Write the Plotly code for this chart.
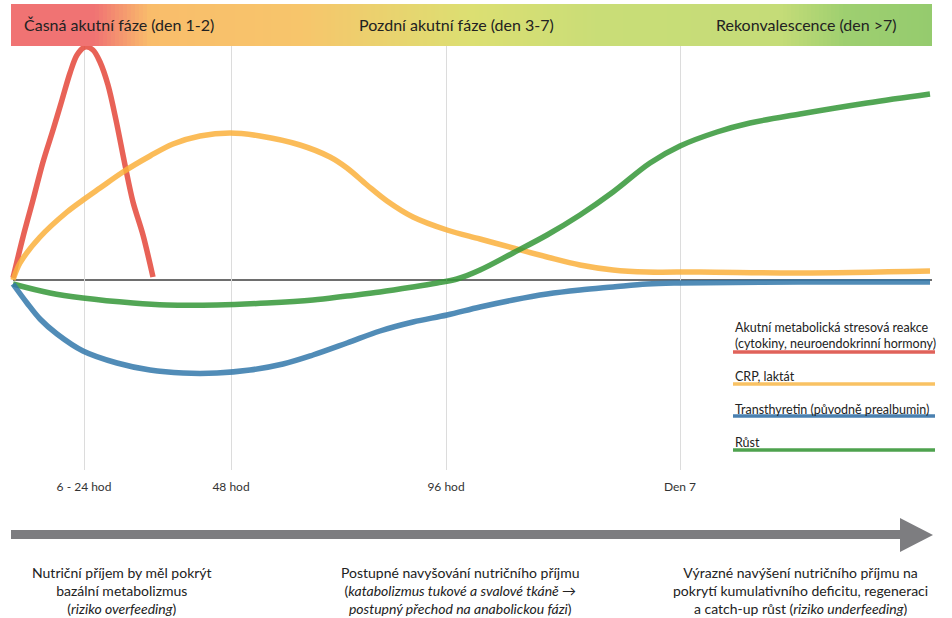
import plotly.graph_objects as go

# ---- data (x: time position, y: relative level vs. baseline) ----
red_x = [13, 23, 33, 43, 53, 62, 70, 77, 85, 93, 100, 108, 116, 125, 133, 143, 153]
red_y = [2, 43, 80, 118, 150, 180, 207, 225, 233, 230, 218, 195, 160, 115, 78, 45, 3]

orange_x = [13, 20, 40, 67, 83, 100, 123, 150, 173, 200, 230, 260, 300, 330, 347, 367, 387, 413, 447, 480, 513, 547, 580, 613, 647, 700, 800, 930]
orange_y = [0, 17, 43, 68, 80, 92, 108, 124, 136, 144, 147, 144, 135, 123, 112, 95, 79, 63, 50, 41, 32, 23, 15, 10, 8, 8, 7, 9]

green_x = [13, 50, 83, 133, 167, 217, 267, 313, 347, 380, 413, 437, 457, 480, 513, 547, 580, 613, 650, 680, 717, 750, 800, 867, 930]
green_y = [-4, -13, -18, -23, -25, -25, -23, -20, -16, -12, -7, -3, 1, 10, 27, 45, 65, 88, 117, 134, 148, 157, 166, 177, 186]

blue_x = [13, 27, 40, 57, 83, 117, 150, 183, 217, 250, 283, 313, 347, 380, 413, 447, 480, 513, 547, 580, 613, 647, 680, 800, 930]
blue_y = [-4, -23, -39, -54, -71, -83, -90, -93, -93, -90, -84, -75, -63, -51, -42, -35, -27, -20, -14, -10, -7, -4, -3, -2, -2]

tick_vals = [84, 231, 446, 680]
tick_text = ["6 - 24 hod", "48 hod", "96 hod", "Den 7"]

phase_labels = ["Časná akutní fáze (den 1-2)", "Pozdní akutní fáze (den 3-7)", "Rekonvalescence (den >7)"]
legend_labels = ["Akutní metabolická stresová reakce<br>(cytokiny, neuroendokrinní hormony)",
                 "CRP, laktát", "Transthyretin (původně prealbumin)", "Růst"]
bottom_texts = [
    "Nutriční příjem by měl pokrýt<br>bazální metabolizmus<br>(<i>riziko overfeeding</i>)",
    "Postupné navyšování nutričního příjmu<br>(<i>katabolizmus tukové a svalové tkáně →<br>postupný přechod na anabolickou fázi</i>)",
    "Výrazné navýšení nutričního příjmu na<br>pokrytí kumulativního deficitu, regeneraci<br>a catch-up růst (<i>riziko underfeeding</i>)",
]

# ---- layout geometry ----
W, H = 952, 618
TOP, BOT = 45, 470   # plot area pixel rows
FONT = "Lato"

def py(p):  # pixel row -> paper y
    return (BOT - p) / (BOT - TOP)

def px(p):  # pixel col -> paper x
    return p / W

fig = go.Figure()

series = [
    (red_x, red_y, "rgba(228,70,58,0.85)", 0.9),
    (orange_x, orange_y, "rgba(250,176,60,0.85)", 1.0),
    (green_x, green_y, "rgba(52,150,55,0.85)", 1.0),
    (blue_x, blue_y, "rgba(50,120,170,0.85)", 1.0),
]
for xs, ys, c, sm in series:
    fig.add_trace(go.Scatter(x=xs, y=ys, mode="lines",
                             line=dict(color=c, width=5.5, shape="spline", smoothing=sm),
                             cliponaxis=False, showlegend=False, hoverinfo="skip"))

shapes = []
# baseline
shapes.append(dict(type="line", xref="x", yref="y", x0=13, x1=932, y0=0, y1=0,
                   line=dict(color="#6e6e6e", width=2), layer="below"))

# header gradient
stops = [(11, (240, 115, 115)), (95, (240, 115, 115)), (150, (249, 189, 107)),
         (300, (247, 197, 107)), (470, (220, 223, 114)), (600, (201, 221, 119)),
         (780, (197, 220, 120)), (845, (158, 207, 112)), (932, (149, 203, 110))]

def col_at(xp):
    for (x0, c0), (x1, c1) in zip(stops[:-1], stops[1:]):
        if x0 <= xp <= x1:
            t = (xp - x0) / (x1 - x0) if x1 > x0 else 0
            return "rgb(%d,%d,%d)" % tuple(round(a + (b - a) * t) for a, b in zip(c0, c1))
    return "rgb(%d,%d,%d)" % stops[-1][1]

step = 4
xp = 11
while xp < 932:
    x1 = min(xp + step, 932)
    shapes.append(dict(type="rect", xref="paper", yref="paper",
                       x0=px(xp), x1=px(min(x1 + 0.6, 932)), y0=py(46), y1=py(4),
                       fillcolor=col_at(xp + step / 2), line=dict(width=0), layer="above"))
    xp = x1

# legend lines
leg_cols = ["#e0625a", "#f9c263", "#4a80b0", "#4ea24e"]
leg_line_y = [352, 384, 416, 450]
for c, ly in zip(leg_cols, leg_line_y):
    shapes.append(dict(type="line", xref="paper", yref="paper", x0=px(733), x1=px(935),
                       y0=py(ly), y1=py(ly), line=dict(color=c, width=3.5)))

# big arrow
shapes.append(dict(type="rect", xref="paper", yref="paper", x0=px(11), x1=px(902),
                   y0=py(539), y1=py(530), fillcolor="#7d7d80", line=dict(width=0)))
shapes.append(dict(type="path", xref="paper", yref="paper",
                   path="M %f %f L %f %f L %f %f Z" % (px(900), py(518), px(933), py(535), px(900), py(552)),
                   fillcolor="#7d7d80", line=dict(width=0)))

annotations = []
for txt, cx in zip(phase_labels, [119, 456, 806]):
    annotations.append(dict(text=txt, xref="paper", yref="paper", x=px(cx), y=py(24),
                            showarrow=False, xanchor="center", yanchor="middle",
                            font=dict(family=FONT, size=16, color="#222")))

leg_text_y = [335, 376, 409, 442]
for txt, ty in zip(legend_labels, leg_text_y):
    annotations.append(dict(text=txt, xref="paper", yref="paper", x=px(733), y=py(ty),
                            showarrow=False, xanchor="left", yanchor="middle", align="left",
                            font=dict(family=FONT, size=12.5, color="#222")))

for txt, cx in zip(bottom_texts, [122, 460, 800]):
    annotations.append(dict(text=txt, xref="paper", yref="paper", x=px(cx), y=py(562),
                            showarrow=False, xanchor="center", yanchor="top", align="center",
                            font=dict(family=FONT, size=14, color="#222")))

fig.update_layout(
    width=W, height=H,
    margin=dict(l=0, r=0, t=TOP, b=H - BOT, pad=0),
    paper_bgcolor="white", plot_bgcolor="white",
    xaxis=dict(range=[0, W], tickvals=tick_vals, ticktext=tick_text, showgrid=True,
               gridcolor="#dcdcdc", gridwidth=1, zeroline=False, showline=False,
               ticks="", ticklabelstandoff=8, tickfont=dict(family=FONT, size=12, color="#333"),
               fixedrange=True),
    yaxis=dict(range=[280 - BOT, 280 - TOP], showgrid=False, zeroline=False,
               showticklabels=False, showline=False, fixedrange=True),
    shapes=shapes, annotations=annotations,
    showlegend=False,
)

fig.write_html("out.html", config={"displayModeBar": False},
               post_script="document.body.style.margin='0';document.body.style.padding='0';")
